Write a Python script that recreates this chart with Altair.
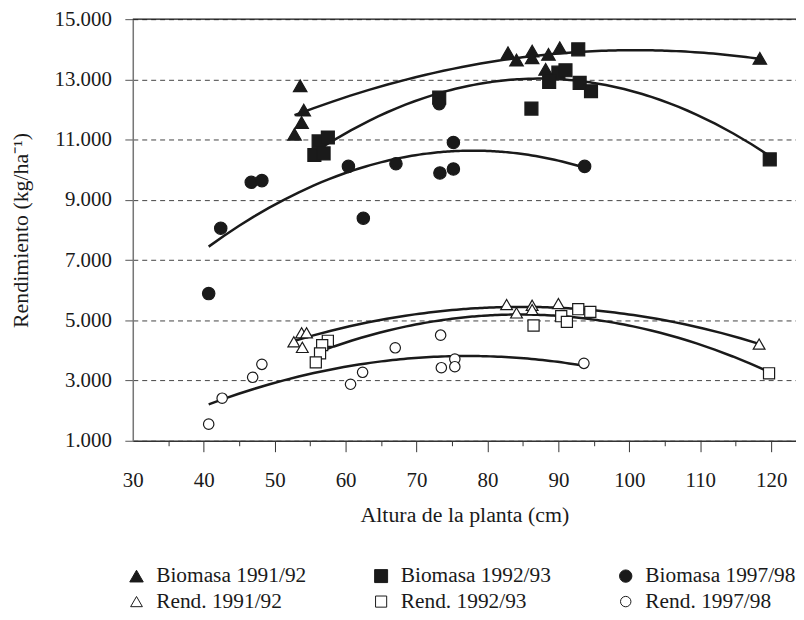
import altair as alt
import pandas as pd

series = ["Biomasa 1991/92", "Biomasa 1992/93", "Biomasa 1997/98",
          "Rend. 1991/92", "Rend. 1992/93", "Rend. 1997/98"]

bio91_x = [53.6, 54.1, 53.8, 52.8, 82.9, 84.1, 86.3, 86.3, 88.6, 88.2, 90.2, 118.4]
bio91_y = [12790, 11980, 11570, 11180, 13885, 13643, 13941, 13719, 13832, 13335, 14050, 13699]

bio92_x = [92.8, 90.0, 91.0, 88.7, 93.0, 94.6, 86.2, 119.8, 56.2, 57.5, 55.6, 56.9, 73.2]
bio92_y = [13997, 13223, 13302, 12915, 12882, 12607, 12031, 10343, 10939, 11071, 10488, 10541, 12395]

bio97_x = [40.7, 42.4, 46.7, 48.2, 60.4, 62.5, 67.1, 73.2, 73.3, 75.2, 75.2, 93.7]
bio97_y = [5887, 8059, 9582, 9638, 10111, 8390, 10200, 12196, 9893, 10905, 10025, 10111]

rend91_x = [53.8, 54.5, 52.7, 53.9, 82.7, 84.1, 86.3, 86.3, 90.0, 118.3]
rend91_y = [4583, 4583, 4286, 4100, 5523, 5245, 5500, 5358, 5557, 4209]

rend92_x = [57.5, 56.7, 56.4, 55.8, 92.8, 94.5, 90.4, 91.2, 86.5, 119.7]
rend92_y = [4319, 4176, 3901, 3603, 5368, 5279, 5136, 4948, 4828, 3240]

rend97_x = [40.7, 42.6, 46.9, 48.2, 60.7, 62.4, 67.0, 73.4, 73.5, 75.4, 75.4, 93.6]
rend97_y = [1552, 2413, 3108, 3538, 2876, 3273, 4087, 4507, 3425, 3713, 3458, 3571]

x_ticks = [30, 40, 50, 60, 70, 80, 90, 100, 110, 120]
x_minor = [35, 45, 55, 65, 75, 85, 95, 105, 115]
y_ticks = [1000, 3000, 5000, 7000, 9000, 11000, 13000, 15000]

xs = [bio91_x, bio92_x, bio97_x, rend91_x, rend92_x, rend97_x]
ys = [bio91_y, bio92_y, bio97_y, rend91_y, rend92_y, rend97_y]
rows = []
for s, xv, yv in zip(series, xs, ys):
    for a, b in zip(xv, yv):
        rows.append({"serie": s, "x": a, "y": b})
df = pd.DataFrame(rows)

FONT = "Liberation Serif"
INK = "#1a1a1a"

xscale = alt.Scale(domain=[30, 123.5], nice=False, zero=False)
yscale = alt.Scale(domain=[1000, 15000], nice=False, zero=False)

yaxis = alt.Axis(
    values=y_ticks,
    labelExpr="replace(format(datum.value, ','), ',', '.')",
    grid=True, gridDash=[5, 4], gridColor="#444", gridWidth=1,
    domainColor="#777", domainWidth=1.5, tickColor="#555", tickSize=8,
    labelFlush=False,
    labelPadding=13.5, labelFont=FONT, labelFontSize=21, labelColor=INK,
    title="Rendimiento (kg/ha⁻¹)", titleFont=FONT, titleFontSize=22,
    titleFontWeight="normal", titleColor=INK, titleAngle=270,
    titleAlign="center", titleBaseline="alphabetic", titleX=-106, titleY=212,
)

xaxis = alt.Axis(
    values=x_ticks, orient="bottom", grid=False,
    domainColor="#333", domainWidth=1.5, tickColor="#333", tickSize=11,
    tickOpacity={"condition": {"test": "datum.value == 30", "value": 0}, "value": 1},
    labelFlush=False,
    labelPadding=18, labelFont=FONT, labelFontSize=21, labelColor=INK,
    title="Altura de la planta (cm)", titleFont=FONT, titleFontSize=22,
    titleFontWeight="normal", titleColor=INK, titleBaseline="alphabetic",
    titleY=81.5,
)

xaxis_minor = alt.Axis(
    values=x_minor, orient="bottom", grid=False, domain=False, labels=False,
    tickColor="#333", tickSize=5, title=None,
)

leg = alt.Legend(title=None, orient="none", legendX=-7, legendY=549,
                 direction="horizontal", columns=3, columnPadding=64, rowPadding=3,
                 labelFont=FONT, labelFontSize=21.5, labelColor=INK,
                 labelOffset=9, symbolStrokeWidth=1, symbolStrokeColor=INK,
                 padding=0, labelLimit=400)

base = alt.Chart(df)

lines = base.transform_regression(
    "x", "y", method="poly", order=2, groupby=["serie"]
).mark_line(color=INK, strokeWidth=2.5).encode(
    x=alt.X("x:Q", scale=xscale, axis=None),
    y=alt.Y("y:Q", scale=yscale, axis=yaxis),
    detail="serie:N",
)

points = base.mark_point(strokeWidth=1.2, opacity=1, fillOpacity=1).encode(
    x=alt.X("x:Q", scale=xscale, axis=xaxis),
    y=alt.Y("y:Q", scale=yscale),
    shape=alt.Shape("serie:N", scale=alt.Scale(
        domain=series,
        range=["triangle-up", "square", "circle", "triangle-up", "square", "circle"]),
        legend=leg),
    fill=alt.Fill("serie:N", scale=alt.Scale(
        domain=series, range=[INK, INK, INK, "white", "white", "white"]),
        legend=leg),
    stroke=alt.Stroke("serie:N", scale=alt.Scale(
        domain=series, range=[INK] * 6), legend=leg),
    size=alt.Size("serie:N", scale=alt.Scale(
        domain=series, range=[185, 110, 140, 210, 110, 160]), legend=leg),
)

minor = base.mark_point(opacity=0).encode(
    x=alt.X("x:Q", scale=xscale, axis=xaxis_minor),
    y=alt.Y("y:Q", scale=yscale),
)

top_rule = alt.Chart(pd.DataFrame({"v": [y_ticks[-1]]})).mark_rule(
    color=INK, strokeWidth=1.3
).encode(y=alt.Y("v:Q", scale=yscale))

chart = alt.layer(lines, points, minor, top_rule).resolve_axis(
    x="independent"
).properties(
    width=667, height=424,
    autosize=alt.AutoSizeParams(type="none"),
    padding={"left": 125.5, "top": 9.5, "right": 0, "bottom": 170.5},
).configure_view(stroke=None).configure(background="white")

chart.save("out.html", embed_options={"renderer": "svg", "actions": False})
